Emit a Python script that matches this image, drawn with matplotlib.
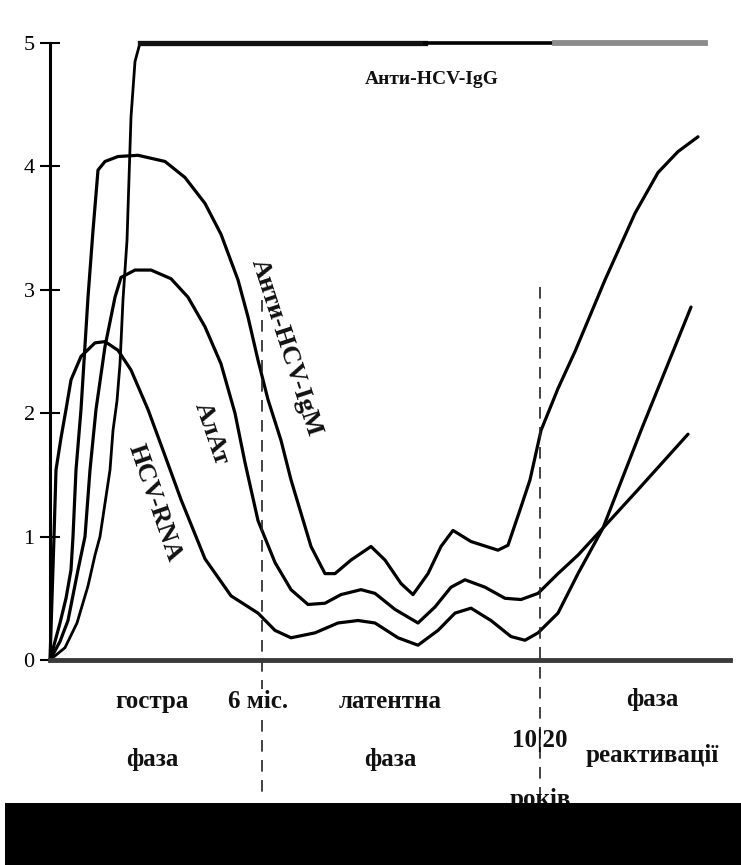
import numpy as np
import matplotlib.pyplot as plt
from matplotlib.patches import Rectangle

plt.rcParams['font.family'] = ['Liberation Serif', 'DejaVu Serif']
plt.rcParams['font.weight'] = 'bold'

# Data (x: arbitrary time units, y: level 0..5)
rna_x = [0, 2, 4, 6, 11, 16, 21, 31, 45, 55, 68, 81, 98, 113, 131, 155, 181, 208, 225, 241,
         265, 288, 308, 325, 348, 368, 388, 405, 421, 441, 461, 475, 488, 508, 528, 553, 591, 641]
rna_y = [0, 0.5, 1.0, 1.54, 1.8, 2.03, 2.27, 2.46, 2.57, 2.58, 2.51, 2.35, 2.03, 1.70, 1.30,
         0.82, 0.52, 0.38, 0.24, 0.18, 0.22, 0.30, 0.32, 0.30, 0.18, 0.12, 0.24, 0.38, 0.42,
         0.32, 0.19, 0.16, 0.22, 0.38, 0.70, 1.07, 1.86, 2.86]

igm_x = [0, 10, 16, 21, 23, 26, 31, 38, 43, 48, 55, 68, 88, 115, 135, 155, 171, 188, 198,
         208, 218, 231, 241, 251, 261, 275, 285, 301, 321, 335, 351, 363, 378, 391, 403,
         421, 448, 458, 471, 480, 491, 508, 525, 555, 585, 608, 628, 648]
igm_y = [0, 0.3, 0.5, 0.73, 1.0, 1.54, 2.03, 2.94, 3.48, 3.97, 4.04, 4.08, 4.09, 4.04, 3.91,
         3.70, 3.45, 3.08, 2.78, 2.43, 2.11, 1.78, 1.46, 1.19, 0.92, 0.70, 0.70, 0.81, 0.92,
         0.81, 0.62, 0.53, 0.70, 0.92, 1.05, 0.96, 0.89, 0.93, 1.24, 1.46, 1.86, 2.2, 2.5,
         3.08, 3.62, 3.95, 4.12, 4.24]

alt_x = [0, 10, 18, 28, 35, 40, 46, 55, 65, 71, 85, 101, 121, 138, 155, 171, 185, 195,
         208, 225, 241, 258, 275, 291, 311, 325, 345, 368, 385, 401, 415, 435, 455, 471,
         488, 508, 528, 553, 588, 638]
alt_y = [0, 0.15, 0.32, 0.73, 1.0, 1.54, 2.03, 2.54, 2.94, 3.10, 3.16, 3.16, 3.09, 2.94,
         2.70, 2.40, 2.0, 1.6, 1.13, 0.79, 0.57, 0.45, 0.46, 0.53, 0.57, 0.54, 0.41, 0.30,
         0.43, 0.59, 0.65, 0.59, 0.50, 0.49, 0.54, 0.70, 0.85, 1.07, 1.38, 1.83]

igg_x = [0, 15, 27, 38, 45, 50, 60, 63, 67, 70, 73, 77, 81, 85, 90, 375, 505, 655]
igg_y = [0, 0.1, 0.3, 0.6, 0.85, 1.0, 1.54, 1.86, 2.1, 2.4, 2.92, 3.4, 4.4, 4.85, 5.0, 5.0, 5.0, 5.0]

yticks = [0, 1, 2, 3, 4, 5]
marks_x = [212, 490]

fig = plt.figure(figsize=(7.41, 8.65), dpi=100)
ax = fig.add_axes([50/741, 205/865, 680/741, 617/865])
ax.set_xlim(0, 680)
ax.set_ylim(0, 5)

line = dict(color='black', lw=2.3, clip_on=False, solid_capstyle='round',
            solid_joinstyle='round')
ax.plot(rna_x, rna_y, **line)
ax.plot(igm_x, igm_y, **line)
ax.plot(alt_x, alt_y, **line)

# anti-HCV-IgG: rise, thick plateau, thinner part, grey end
igg_x = np.array(igg_x)
igg_y = np.array(igg_y)
ax.plot(igg_x[:16], igg_y[:16], color='black', lw=2.0, clip_on=False, solid_joinstyle='round')
ax.plot(igg_x[14:16], igg_y[14:16], color='#111111', lw=3.8, clip_on=False)
ax.plot(igg_x[15:17], igg_y[15:17], color='black', lw=2.6, clip_on=False)
ax.plot(igg_x[16:18], igg_y[16:18], color='#8c8c8c', lw=4.2, clip_on=False)

# phase borders
ax.plot([marks_x[0], marks_x[0]], [2.92, -1.07], color='#222222', lw=1.2,
        ls=(0, (7, 5)), clip_on=False)
ax.plot([marks_x[1], marks_x[1]], [3.02, -1.6], color='#222222', lw=1.2,
        ls=(0, (7, 5)), clip_on=False)

for s in ['top', 'right']:
    ax.spines[s].set_visible(False)
ax.spines['left'].set_linewidth(2.2)
ax.spines['bottom'].set_linewidth(3.5)
ax.spines['bottom'].set_color('#3a3a3a')
ax.set_xticks([])
ax.set_yticks(yticks)
ax.set_yticklabels([str(t) for t in yticks], fontsize=16, fontweight='normal')
ax.tick_params(axis='y', direction='inout', length=14, width=1.5, pad=4)

def py(p):
    return (660 - p) / 123.4

txt = dict(color='#111111', fontweight='bold', clip_on=False)
ax.text(382, py(80), 'Анти-HCV-IgG', fontsize=14, ha='center', va='center', **txt)
ax.text(236, py(348), 'Анти-HCV-IgM', fontsize=19, rotation=-72, ha='center', va='center',
        rotation_mode='anchor', **txt)
ax.text(161, py(433), 'АлАт', fontsize=19, rotation=-71, ha='center', va='center',
        rotation_mode='anchor', **txt)
ax.text(105, py(503), 'HCV-RNA', fontsize=19, rotation=-71, ha='center', va='center',
        rotation_mode='anchor', **txt)

lab = dict(fontsize=18, ha='center', va='baseline', fontweight='bold', color='#111111')
ax.text(102, py(708), 'гостра', **lab)
ax.text(102, py(766), 'фаза', **lab)
ax.text(208, py(708), '6 міс.', bbox=dict(fc='white', ec='none', pad=1), **lab)
ax.text(340, py(708), 'латентна', **lab)
ax.text(340, py(766), 'фаза', **lab)
ax.text(490, py(747), '10|20', **lab)
ax.text(490, py(806), 'років', **lab)
ax.text(602, py(706), 'фаза', **lab)
ax.text(602, py(762), 'реактивації', **lab)

fig.patches.append(Rectangle((5/741, 0), 736/741, 62/865, transform=fig.transFigure,
                             facecolor='black', edgecolor='none', zorder=10))

fig.savefig('out.png', dpi=100)
